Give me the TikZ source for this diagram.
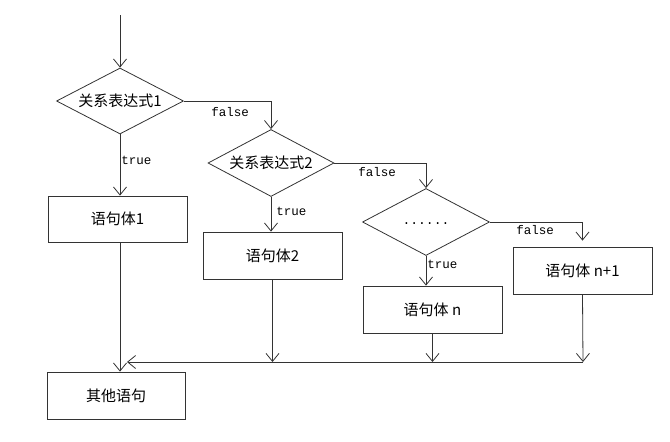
\documentclass[tikz,border=0pt]{standalone}
\usepackage{fontspec}
\usetikzlibrary{shapes.geometric,arrows.meta,calc}
\newfontfamily\cjk{Noto Sans CJK SC}
\newfontfamily\monof{Liberation Mono}
\begin{document}
\begin{tikzpicture}[x=1pt,y=-1pt,
  line width=0.8pt,
  conn/.style={draw=black!80,-{Straight Barb[length=8pt,width=13pt,line width=0.8pt]}},
  cond/.style={diamond,aspect=1.9,draw=black!80,inner sep=0pt,font=\cjk\fontsize{15}{17}\selectfont},
  stmt/.style={rectangle,draw=black!80,inner sep=0pt,font=\cjk\fontsize{15}{17}\selectfont},
  lbl/.style={font=\monof\fontsize{12.5}{14}\selectfont,inner sep=0pt,anchor=west}]
\useasboundingbox (0,0) rectangle (670,442);
\coordinate (start) at (120,15);
\node[cond,minimum width=127pt,minimum height=66pt] (d1) at (120,101) {关系表达式1};
\node[cond,minimum width=126pt,minimum height=67pt] (d2) at (271,163) {关系表达式2};
\node[cond,minimum width=127pt,minimum height=67pt] (d3) at (426,222) {\raisebox{-4pt}{\monof\fontsize{13}{15}\selectfont ......}};
\node[stmt,minimum width=139pt,minimum height=46pt] (b1) at (117.5,219) {语句体1};
\node[stmt,minimum width=139pt,minimum height=47pt] (b2) at (272.5,255.5) {语句体2};
\node[stmt,minimum width=139pt,minimum height=47pt] (bn) at (432.5,309.5) {语句体 n};
\node[stmt,minimum width=139pt,minimum height=47pt] (bn1) at (582.5,270.5) {语句体 n+1};
\node[stmt,minimum width=138pt,minimum height=47pt] (oth) at (116,395.5) {其他语句};
\coordinate (mright) at (583,362);
\coordinate (mleft) at (127,362);
% labels
\node[lbl] at (121,160) {true};
\node[lbl] at (276,211) {true};
\node[lbl] at (427,264) {true};
\node[lbl] at (211,112) {false};
\node[lbl] at (358,172) {false};
\node[lbl] at (516,230) {false};
% connectors
\draw[conn] (start) -- (d1.north);
\draw[conn] (d1.south) -- (d1.south |- b1.north);
\draw[conn] (d1.east) -| (d2.north);
\draw[conn] (d2.south) -- (d2.south |- b2.north);
\draw[conn] (d2.east) -| (d3.north);
\draw[conn] (d3.south) -- (d3.south |- bn.north);
\draw[conn] (d3.east) -| ($(bn1.north)+(0,-6)$);
\draw[conn] (d1.south |- b1.south) -- (d1.south |- oth.north);
\draw[conn] (b2.south) -- (b2.south |- mright);
\draw[conn] (bn.south) -- (bn.south |- mright);
\draw[conn] (bn1.south) -- (mright);
\draw[conn] (mright) -- (mleft);
\end{tikzpicture}
\end{document}
